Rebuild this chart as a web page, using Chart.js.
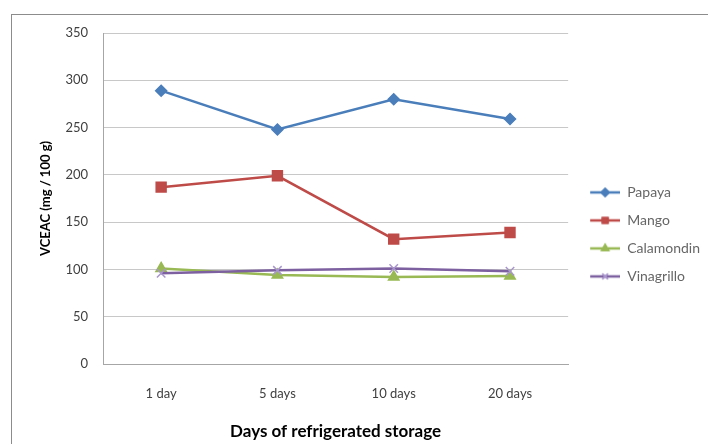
<!DOCTYPE html>
<html>
<head>
<meta charset="utf-8">
<script src="https://cdn.jsdelivr.net/npm/chart.js@4"></script>
<style>
  html, body { margin: 0; padding: 0; background: #fff; overflow: hidden; }
  #frame { position: absolute; left: 11px; top: 14px; width: 720px; height: 450px;
           border-left: 1px solid #8c8c8c; border-top: 1px solid #8c8c8c; }
  #c { position: absolute; left: 12px; top: 15px; }
</style>
</head>
<body>
<div id="frame"></div>
<canvas id="c" width="696" height="429"></canvas>
<script>
// data
var days = ["1 day", "5 days", "10 days", "20 days"];
var papaya = [289, 248, 280, 259];
var mango = [187, 199, 132, 139];
var calamondin = [101, 94, 92, 93];
var vinagrillo = [96, 99, 101, 98];
var yTicks = [0, 50, 100, 150, 200, 250, 300, 350];

var FONT = "Lato, 'Open Sans', sans-serif";

// legend swatch: line with the marker in the middle
function swatch(color, style, markColor) {
  var cv = document.createElement('canvas');
  cv.width = 38; cv.height = 14;
  var g = cv.getContext('2d');
  g.strokeStyle = color; g.lineWidth = 2.5;
  g.beginPath(); g.moveTo(8, 7); g.lineTo(38, 7); g.stroke();
  g.fillStyle = markColor; g.strokeStyle = markColor; g.lineWidth = 1.5;
  g.beginPath();
  Chart.helpers.drawPoint(g, {pointStyle: style, radius: 4, borderWidth: 1.5, rotation: 0}, 23, 7);
  g.fill(); g.stroke();
  return cv;
}

var series = [
  {label: "Papaya", data: papaya, color: "#4a7ebb", mark: "#4a7ebb", style: "rectRot", r: 5.5, order: 4},
  {label: "Mango", data: mango, color: "#be4b48", mark: "#be4b48", style: "rect", r: 7, order: 3},
  {label: "Calamondin", data: calamondin, color: "#98b954", mark: "#98b954", style: "triangle", r: 6, order: 2},
  {label: "Vinagrillo", data: vinagrillo, color: "#7d60a0", mark: "#a996cc", style: "crossRot", r: 6, order: 1}
];

var datasets = series.map(function (s) {
  return {
    label: s.label,
    data: s.data,
    borderColor: s.color,
    backgroundColor: s.mark,
    borderWidth: 2.5,
    pointStyle: s.style,
    pointRadius: s.r,
    pointBorderColor: s.mark,
    pointBackgroundColor: s.mark,
    pointBorderWidth: 1.5,
    tension: 0,
    order: s.order,
    swatch: swatch(s.color, s.style, s.mark)
  };
});

new Chart(document.getElementById('c'), {
  type: 'line',
  data: { labels: days, datasets: datasets },
  options: {
    responsive: false,
    animation: false,
    devicePixelRatio: 1,
    layout: { padding: { left: 0, top: 0, right: -2, bottom: 0 } },
    plugins: {
      tooltip: { enabled: false },
      legend: {
        position: 'right',
        align: 'start',
        title: { display: true, text: ' ', padding: { top: 142, bottom: 0 }, font: { size: 12 } },
        labels: {
          usePointStyle: true,
          pointStyleWidth: 38,
          padding: 14,
          color: '#000',
          font: { family: FONT, size: 14 },
          sort: function (a, b) { return a.datasetIndex - b.datasetIndex; },
          generateLabels: function (chart) {
            return chart.data.datasets.map(function (d, i) {
              return { text: d.label, pointStyle: d.swatch, datasetIndex: i, hidden: false,
                       fillStyle: d.borderColor, strokeStyle: d.borderColor, lineWidth: 0 };
            });
          }
        }
      }
    },
    scales: {
      x: {
        offset: true,
        grid: { display: false, drawTicks: false },
        border: { display: true, color: '#a6a6a6', width: 1 },
        ticks: { padding: 22, color: '#404040', font: { family: FONT, size: 13 } },
        title: { display: true, text: 'Days of refrigerated storage', color: '#000',
                 font: { family: FONT, size: 17, weight: 'bold' }, padding: { top: 0, bottom: 2 } },
        afterFit: function (scale) { scale.height = 80; }
      },
      y: {
        min: 0, max: 350,
        afterBuildTicks: function (scale) { scale.ticks = yTicks.map(function (v) { return {value: v}; }); },
        grid: { color: '#c8c8c8', lineWidth: 1, drawTicks: false },
        border: { display: true, color: '#a6a6a6', width: 1 },
        ticks: { padding: 15, color: '#404040', font: { family: FONT, size: 13 } },
        title: { display: true, text: 'VCEAC (mg / 100 g)', color: '#000',
                 font: { family: FONT, size: 13, weight: 'bold' }, padding: { top: 26, bottom: 0 } },
        afterFit: function (scale) { scale.width = 91; scale.paddingTop = 18; scale.paddingBottom = 0; }
      }
    }
  }
});
</script>
</body>
</html>
